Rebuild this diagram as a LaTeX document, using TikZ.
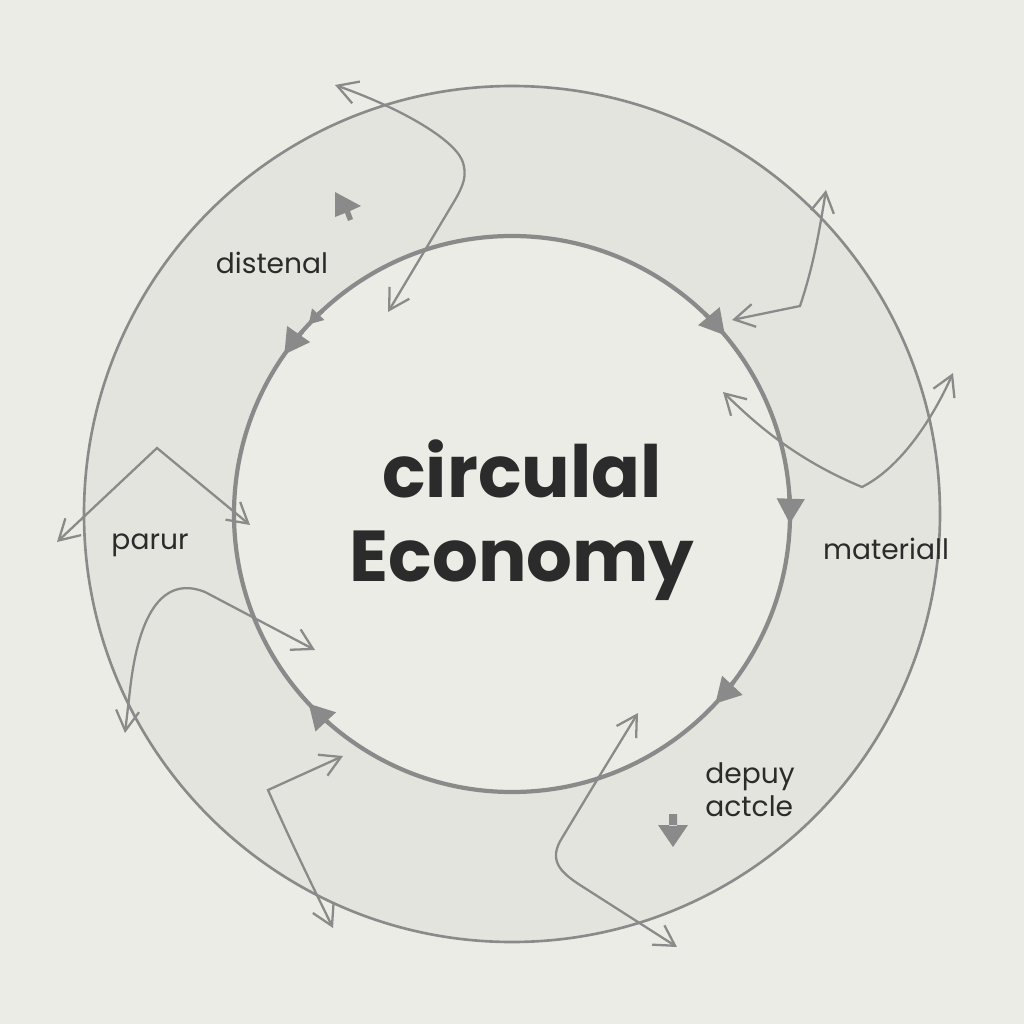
\documentclass[tikz,border=0pt]{standalone}
\usepackage{fontspec}
\setmainfont{Poppins}
\usetikzlibrary{arrows.meta}
\definecolor{paper}{HTML}{ECECE6}
\definecolor{ringfill}{HTML}{E3E4DD}
\definecolor{linegray}{HTML}{8A8A8A}
\definecolor{ink}{HTML}{2B2B2B}
\tikzset{
  flow/.style={line width=0.65pt,draw=linegray,{Straight Barb[length=2mm,width=2.3mm]}-{Straight Barb[length=2mm,width=2.3mm]}},
  cyc/.style={draw=linegray,line width=1.2pt,-{Triangle[length=2.5mm,width=2.7mm]}},
  lbl/.style={text=ink,font=\fontsize{8}{9.5}\selectfont},
}
\begin{document}
\begin{tikzpicture}[x=0.01cm,y=-0.01cm]
\fill[paper] (0,0) rectangle (1024,1024);
\useasboundingbox (0,0) rectangle (1024,1024);
\coordinate (c) at (512,514);
\filldraw[fill=ringfill,draw=linegray,line width=0.75pt] (c) circle[radius=428];
\filldraw[fill=paper,draw=linegray,line width=1.2pt] (c) circle[radius=278];
\draw[cyc] (c) ++(-139:278) arc[start angle=-139,end angle=-145,radius=278];
\draw[cyc,-{Triangle[length=1.4mm,width=1.6mm]}] (c) ++(-133:278) arc[start angle=-133,end angle=-137,radius=278];
\draw[cyc] (c) ++(-46:278) arc[start angle=-46,end angle=-40,radius=278];
\draw[cyc] (c) ++(-4:278) arc[start angle=-4,end angle=2,radius=278];
\draw[cyc] (c) ++(37:278) arc[start angle=37,end angle=43,radius=278];
\draw[cyc] (c) ++(131:278) arc[start angle=131,end angle=137,radius=278];
\node[text=ink,align=center,font=\fontsize{20.5}{24}\selectfont\bfseries] (title) at (522,520) {circulal\\Economy};
\node[lbl] (distenal) at (272,263) {distenal};
\node[lbl] (parur) at (150,545) {parur};
\node[lbl] (materiall) at (886,549) {materiall};
\node[lbl,align=left] (depuy) at (750,790) {depuy\\actcle};
\draw[flow] (335,85) .. controls (400,108) and (452,138) .. (462,160) .. controls (468,175) and (463,186) .. (455,200) -- (388,312);
\draw[flow] (732,320) -- (800,306) .. controls (812,270) and (818,240) .. (826,190);
\draw[flow] (723,392) .. controls (752,420) and (792,458) .. (862,487) .. controls (900,468) and (932,420) .. (953,373);
\draw[flow] (57,542) -- (157,448) -- (250,525);
\draw[flow] (315,650) -- (205,592) .. controls (170,578) and (140,600) .. (130,690) -- (125,733);
\draw[flow] (343,756) -- (268,790) .. controls (290,840) and (312,885) .. (333,928);
\draw[flow] (638,713) .. controls (600,775) .. (562,838) .. controls (548,860) and (560,872) .. (580,885) -- (677,947);
\fill[linegray] (335,192) -- (361,206) -- (350,211) -- (353,219) -- (348,221) -- (345,213) -- (335,217) -- cycle;
\fill[linegray] (669,814) rectangle (677,826) (658,825) -- (688,825) -- (673,847) -- cycle;
\end{tikzpicture}
\end{document}
